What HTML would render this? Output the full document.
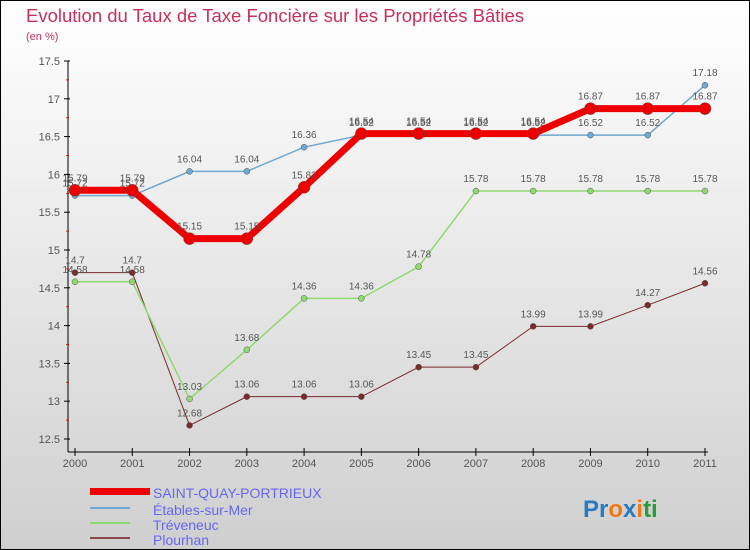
<!DOCTYPE html>
<html><head><meta charset="utf-8"><style>
body{margin:0;width:750px;height:550px;overflow:hidden}
svg{display:block;font-family:"Liberation Sans",sans-serif}
</style></head><body>
<svg id="c" width="750" height="550">
<defs><linearGradient id="bg" x1="0" y1="0" x2="0" y2="1"><stop offset="0" stop-color="#ffffff"/><stop offset="1" stop-color="#cfcfcf"/></linearGradient></defs>
<rect x="0.5" y="0.5" width="749" height="549" fill="url(#bg)" stroke="#000"/>
<text x="26" y="22" font-size="18.5" fill="#c8305a">Evolution du Taux de Taxe Foncière sur les Propriétés Bâties</text>
<text x="26" y="40" font-size="11" fill="#c8305a">(en %)</text>
<g id="axes"></g><g id="series"></g>
<g>
<rect x="90" y="488" width="60" height="7" fill="#e00"/>
<text x="153" y="498" font-size="14" fill="#6666ee">SAINT-QUAY-PORTRIEUX</text>
<line x1="90" y1="508" x2="130" y2="508" stroke="#6fa8d0" stroke-width="2"/>
<text x="153" y="515" font-size="14" fill="#6666ee">Étables-sur-Mer</text>
<line x1="90" y1="523" x2="130" y2="523" stroke="#90d870" stroke-width="2"/>
<text x="153" y="530" font-size="14" fill="#6666ee">Tréveneuc</text>
<line x1="90" y1="538" x2="130" y2="538" stroke="#8a4a4a" stroke-width="2"/>
<text x="153" y="545" font-size="14" fill="#6666ee">Plourhan</text>
</g>
<text x="583" y="517" font-size="24" font-weight="bold"><tspan fill="#2a7ac0">Pr</tspan><tspan fill="#f07a10">o</tspan><tspan fill="#2a7ac0">x</tspan><tspan fill="#f07a10">i</tspan><tspan fill="#2a9a3a">ti</tspan></text>
</svg>
<script>
const years=["2000","2001","2002","2003","2004","2005","2006","2007","2008","2009","2010","2011"];
const yTicks=[12.5,13,13.5,14,14.5,15,15.5,16,16.5,17,17.5];
const saintQuay=[15.79,15.79,15.15,15.15,15.83,16.54,16.54,16.54,16.54,16.87,16.87,16.87];
const etables=[15.72,15.72,16.04,16.04,16.36,16.52,16.52,16.52,16.52,16.52,16.52,17.18];
const treveneuc=[14.58,14.58,13.03,13.68,14.36,14.36,14.78,15.78,15.78,15.78,15.78,15.78];
const plourhan=[14.7,14.7,12.68,13.06,13.06,13.06,13.45,13.45,13.99,13.99,14.27,14.56];
const NS="http://www.w3.org/2000/svg";
const xs=i=>75+i*(630/11);
const ys=v=>439-(v-12.5)*75.6;
function mk(t,a,p){const e=document.createElementNS(NS,t);for(const k in a)e.setAttribute(k,a[k]);p.appendChild(e);return e;}
const ax=document.getElementById('axes');
const yAxis=mk('line',{x1:68,y1:61,x2:68,y2:452,stroke:'#000'},ax);


const xAxis=mk('line',{x1:68,y1:452,x2:708,y2:452,stroke:'#000'},ax);


yTicks.forEach((v,i)=>{
 mk('line',{x1:64,y1:ys(v),x2:70,y2:ys(v),stroke:'#000'},ax);
 if(i<yTicks.length-1) mk('line',{x1:66,y1:ys(v+0.25),x2:69,y2:ys(v+0.25),stroke:'#d00','stroke-width':0.8},ax);
 const t=mk('text',{x:60,y:ys(v)+4,'font-size':11,fill:'#555','text-anchor':'end'},ax);t.textContent=String(v);
 
 
});
years.forEach((y,i)=>{
 mk('line',{x1:xs(i),y1:448,x2:xs(i),y2:456,stroke:'#000'},ax);
 const t=mk('text',{x:xs(i),y:467,'font-size':11,fill:'#555','text-anchor':'middle'},ax);t.textContent=y;
 
 
});
const sg=document.getElementById('series');
function draw(data,color,w,r,name){
 const g=mk('g',{},sg);
 
 
 mk('polyline',{points:data.map((v,i)=>xs(i)+','+ys(v)).join(' '),fill:'none',stroke:color,'stroke-width':w},g);
 data.forEach((v,i)=>{
  const c=mk('circle',{cx:xs(i),cy:ys(v),r:r,fill:color,stroke:'#555','stroke-width':0.5},g);
  
  
  const t=mk('text',{x:xs(i),y:ys(v)-9,'font-size':10,fill:'#555','text-anchor':'middle'},g);t.textContent=String(v);
 });
}
draw(plourhan,'#7a2a2a',1,3,'series-plourhan');
draw(treveneuc,'#90d870',1.5,3,'series-treveneuc');
draw(etables,'#6fa8d0',1.5,3,'series-etables');
draw(saintQuay,'#e00',7,6,'series-saint-quay');
</script>
</body></html>
